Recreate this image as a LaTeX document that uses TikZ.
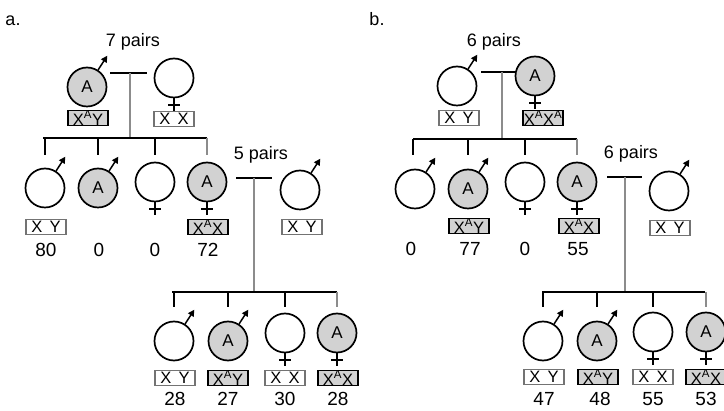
\documentclass[tikz,border=0pt]{standalone}
\usepackage{fontspec}
\setmainfont{Liberation Sans}
\usetikzlibrary{arrows.meta,calc}
\newcommand\malesym[1]{\draw[marrow] (#1.57) -- ++(-57:17);}
\newcommand\femsym[1]{\draw[ln] (#1.south) -- ++(0,13); \draw[ln] ($(#1.south)+(-6,7)$) -- ++(12,0);}
\newcommand\XA{X\textsuperscript{A}}
\newcommand\gapsp{\hspace{0.45em}}
\begin{document}
\begin{tikzpicture}[x=1pt,y=-1pt,
  pers/.style={circle,draw=black,line width=1.7pt,minimum size=39pt,inner sep=0pt,font=\fontsize{17}{17}\selectfont},
  aff/.style={pers,fill=gray!35},
  gbox/.style={draw=black!55,line width=1.4pt,minimum width=40pt,minimum height=15pt,inner sep=0pt,font=\fontsize{16.5}{16.5}\selectfont},
  sbox/.style={gbox,draw=black,fill=gray!35},
  num/.style={font=\fontsize{19}{19}\selectfont,inner sep=0pt},
  lab/.style={font=\fontsize{18}{18}\selectfont,inner sep=0pt},
  ln/.style={line width=1.7pt,draw=black},
  gln/.style={line width=1.7pt,draw=black!45},
  marrow/.style={line width=1.5pt,-{Triangle[length=6.5pt,width=6.5pt]}},
]
\useasboundingbox (0,0) rectangle (724,411);
\fill[white] (0,0) rectangle (724,411);
\clip (0,0) rectangle (724,411);

% ---------------- panel a ----------------
\node[lab] (la) at (13,21) {a.};
\node[lab] (p7) at (133,42) {7 pairs};
\node[aff] (af) at (87,87) {A}; \malesym{af}
\node[pers] (am) at (174,78) {}; \femsym{am}
\node[sbox] (afb) at (88,118) {\XA Y};
\node[gbox] (amb) at (174,119) {X\gapsp X};
\coordinate (am1) at (110,73); \coordinate (am2) at (147,73);
\draw[ln] (am1) -- (am2);
\coordinate (ad1) at (130,73); \coordinate (ad2) at (130,138);
\draw[gln] (ad1) -- (ad2);
\coordinate (as1) at (43,138); \coordinate (as2) at (207,138);
\draw[ln] (as1) -- (as2);

\node[pers] (ac1) at (45,188) {}; \malesym{ac1}
\node[aff] (ac2) at (98,188) {A}; \malesym{ac2}
\node[pers] (ac3) at (155,182) {}; \femsym{ac3}
\node[aff] (ac4) at (207,182) {A}; \femsym{ac4}
\draw[ln] (ac1 |- as1) -- ++(0,17);
\draw[ln] (ac2 |- as1) -- ++(0,17);
\draw[ln] (ac3 |- as1) -- ++(0,17);
\draw[gln] (ac4 |- as1) -- ++(0,17);
\node[gbox] (ac1b) at (46,227) {X\gapsp Y};
\node[sbox] (ac4b) at (208,227) {\XA X};
\node[num] (ac1n) at (46,250) {80};
\node[num] (ac2n) at (99,250) {0};
\node[num] (ac3n) at (155,250) {0};
\node[num] (ac4n) at (208,250) {72};

\node[lab] (p5) at (261,155) {5 pairs};
\coordinate (an1) at (236,178); \coordinate (an2) at (272,178);
\draw[ln] (an1) -- (an2);
\coordinate (ae1) at (254,178); \coordinate (ae2) at (254,292);
\draw[gln] (ae1) -- (ae2);
\node[pers] (asp) at (300,190) {}; \malesym{asp}
\node[gbox] (aspb) at (302,227) {X\gapsp Y};
\coordinate (at1) at (172,292); \coordinate (at2) at (337,292);
\draw[ln] (at1) -- (at2);

\node[pers] (ag1) at (174,341) {}; \malesym{ag1}
\node[aff] (ag2) at (228,341) {A}; \malesym{ag2}
\node[pers] (ag3) at (285,333) {}; \femsym{ag3}
\node[aff] (ag4) at (337,333) {A}; \femsym{ag4}
\draw[ln] (ag1 |- at1) -- ++(0,15);
\draw[ln] (ag2 |- at1) -- ++(0,15);
\draw[ln] (ag3 |- at1) -- ++(0,15);
\draw[gln] (ag4 |- at1) -- ++(0,15);
\node[gbox] (ag1b) at (175,378) {X\gapsp Y};
\node[sbox] (ag2b) at (228,378) {\XA Y};
\node[gbox] (ag3b) at (285,378) {X\gapsp X};
\node[sbox] (ag4b) at (338,378) {\XA X};
\node[num] (ag1n) at (175,399) {28};
\node[num] (ag2n) at (228,399) {27};
\node[num] (ag3n) at (285,399) {30};
\node[num] (ag4n) at (338,399) {28};

% ---------------- panel b ----------------
\node[lab] (lb) at (377,19) {b.};
\node[lab] (p6) at (494,42) {6 pairs};
\node[pers] (bf) at (457,86) {}; \malesym{bf}
\node[aff] (bm) at (535,76) {A}; \femsym{bm}
\node[gbox] (bfb) at (459,118) {X\gapsp Y};
\node[sbox] (bmb) at (543,118) {\XA\XA};
\coordinate (bm1) at (481,72); \coordinate (bm2) at (516,72);
\draw[ln] (bm1) -- (bm2);
\coordinate (bd1) at (502,72); \coordinate (bd2) at (502,139);
\draw[gln] (bd1) -- (bd2);
\coordinate (bs1) at (413,139); \coordinate (bs2) at (577,139);
\draw[ln] (bs1) -- (bs2);

\node[pers] (bc1) at (415,189) {}; \malesym{bc1}
\node[aff] (bc2) at (468,189) {A}; \malesym{bc2}
\node[pers] (bc3) at (525,182) {}; \femsym{bc3}
\node[aff] (bc4) at (577,182) {A}; \femsym{bc4}
\draw[ln] (bs1) -- ++(0,16);
\draw[ln] (bc2 |- bs1) -- ++(0,16);
\draw[ln] (bc3 |- bs1) -- ++(0,16);
\draw[gln] (bc4 |- bs1) -- ++(0,16);
\node[sbox] (bc2b) at (469,226) {\XA Y};
\node[sbox] (bc4b) at (579,226) {\XA X};
\node[num] (bc1n) at (411,249) {0};
\node[num] (bc2n) at (470,249) {77};
\node[num] (bc3n) at (525,249) {0};
\node[num] (bc4n) at (578,249) {55};

\node[lab] (p6b) at (631,154) {6 pairs};
\coordinate (bn1) at (607,177); \coordinate (bn2) at (642,177);
\draw[ln] (bn1) -- (bn2);
\coordinate (be1) at (625,177); \coordinate (be2) at (625,292);
\draw[gln] (be1) -- (be2);
\node[pers] (bsp) at (669,191) {}; \malesym{bsp}
\node[gbox] (bspb) at (670,228) {X\gapsp Y};
\coordinate (bt1) at (542,292); \coordinate (bt2) at (705,292);
\draw[ln] (bt1) -- (bt2);

\node[pers] (bg1) at (543,341) {}; \malesym{bg1}
\node[aff] (bg2) at (597,341) {A}; \malesym{bg2}
\node[pers] (bg3) at (653,332) {}; \femsym{bg3}
\node[aff] (bg4) at (706,332) {A}; \femsym{bg4}
\draw[ln] (bg1 |- bt1) -- ++(0,15);
\draw[ln] (bg2 |- bt1) -- ++(0,15);
\draw[ln] (bg3 |- bt1) -- ++(0,15);
\draw[gln] (bg4 |- bt1) -- ++(0,15);
\node[gbox] (bg1b) at (544,377) {X\gapsp Y};
\node[sbox] (bg2b) at (598,377) {\XA Y};
\node[gbox] (bg3b) at (653,377) {X\gapsp X};
\node[sbox] (bg4b) at (706,377) {\XA X};
\node[num] (bg1n) at (544,399) {47};
\node[num] (bg2n) at (600,399) {48};
\node[num] (bg3n) at (653,399) {55};
\node[num] (bg4n) at (706,399) {53};
\end{tikzpicture}
\end{document}
